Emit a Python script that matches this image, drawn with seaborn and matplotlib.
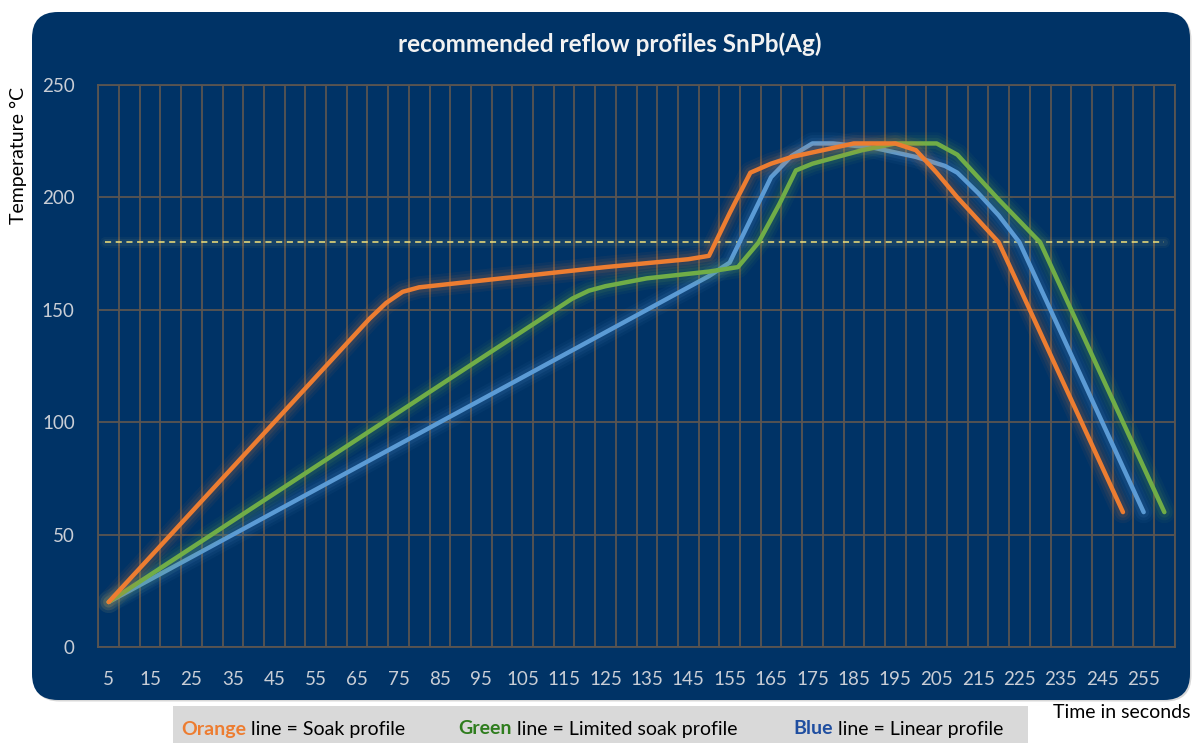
import matplotlib
matplotlib.use("Agg")
import matplotlib.pyplot as plt
from matplotlib.patches import FancyBboxPatch, Rectangle
import seaborn as sns
import numpy as np

# reflow profile readings (time in s, temperature in degC)
soak_time = [5, 68, 72, 76, 80, 100, 125, 145, 150, 155, 160, 165, 170, 180, 185, 195, 200, 205, 210, 215, 220, 250]
soak_temp = [20, 146, 153, 158, 160, 164, 169, 172.5, 174, 193, 211, 215, 218, 222, 224, 224, 221, 211, 200, 190, 180, 60]

limited_time = [5, 117, 121, 125, 135, 150, 157, 162, 167, 171, 175, 187, 195, 205, 210, 215, 220, 230, 260]
limited_temp = [20, 155, 158.5, 160.5, 164, 167, 169, 180, 197, 212, 215, 221, 224, 224, 219, 209, 199, 180, 60]

linear_time = [5, 150, 155, 160, 165, 170, 175, 180, 190, 200, 207, 210, 215, 220, 225, 255]
linear_temp = [20, 165, 171, 190, 209, 218.5, 224, 224, 222, 218, 214, 211, 202, 192, 180, 60]

liquidus_time = [4, 260]
liquidus_temp = [180, 180]

x_labels = list(range(5, 256, 10))
y_ticks = [0, 50, 100, 150, 200, 250]

BG = "#003366"
GRID = "#5a5550"
TICK = "#c9ced6"
ORANGE = "#ED7D31"
GREEN = "#70AD47"
BLUE = "#5B9BD5"

sns.set_style("white")
plt.rcParams["font.family"] = ["Lato", "DejaVu Sans"]

fig = plt.figure(figsize=(11.94, 7.43), dpi=100)
fig.patch.set_facecolor("white")

# dark rounded panel
shadow = FancyBboxPatch((0.335, 0.415), 11.58, 6.88, boxstyle="round,pad=0,rounding_size=0.26",
                        transform=fig.dpi_scale_trans, facecolor="#d8d8d8", edgecolor="none", zorder=0)
panel = FancyBboxPatch((0.32, 0.43), 11.58, 6.88, boxstyle="round,pad=0,rounding_size=0.26",
                       transform=fig.dpi_scale_trans, facecolor=BG, edgecolor="none", zorder=0)
fig.patches.extend([shadow, panel])

ax = fig.add_axes([98.3 / 1194, 1 - 647 / 743, (1174.7 - 98.3) / 1194, (647 - 85) / 743])
ax.set_facecolor(BG)
ax.set_zorder(1)

def glow_line(x, y, color, lw=3.2, ls="-", glow=((16, 0.05), (12, 0.07), (8, 0.10))):
    for w, a in glow:
        sns.lineplot(x=x, y=y, ax=ax, color=color, lw=w, alpha=a, solid_capstyle="round", ls="-")
    line = sns.lineplot(x=x, y=y, ax=ax, color=color, lw=lw, ls=ls, solid_capstyle="round")
    return line

glow_line(liquidus_time, liquidus_temp, "#f3e27a", lw=1.1, ls=(0, (4, 3)),
          glow=((8, 0.04), (5, 0.06)))
glow_line(linear_time, linear_temp, BLUE)
glow_line(limited_time, limited_temp, GREEN)
glow_line(soak_time, soak_temp, ORANGE)
for ln in ax.lines:
    ln.set_solid_joinstyle("round")

ax.set_xlim(2.5, 262.5)
ax.set_ylim(0, 250)
ax.set_xticks(x_labels)
ax.set_xticklabels([str(v) for v in x_labels])
ax.set_xticks(np.arange(2.5, 263, 5), minor=True)
ax.set_yticks(y_ticks)
ax.tick_params(axis="both", which="both", length=0, colors=TICK, labelsize=13.5)
ax.tick_params(axis="x", pad=17)
ax.tick_params(axis="y", pad=17)
ax.grid(False)
ax.grid(True, axis="x", which="minor", color=GRID, lw=1.3)
ax.grid(True, axis="y", which="major", color=GRID, lw=1.3)
for s in ax.spines.values():
    s.set_visible(True)
    s.set_color(GRID)
    s.set_linewidth(1.3)
ax.set_xlabel("")
ax.set_ylabel("")

fig.text(0.511, 1 - 44 / 743, "recommended reflow profiles SnPb(Ag)", color="#f2f2f2",
         fontsize=17.5, fontweight="bold", ha="center", va="center")
fig.text(18 / 1194, 1 - 155 / 743, "Temperature °C", rotation=90, color="black",
         fontsize=14, ha="center", va="center")
fig.text(1122 / 1194, 1 - 713 / 743, "Time in seconds", color="black",
         fontsize=14, ha="center", va="center")

fig.patches.append(Rectangle((173 / 1194, 0), (1028 - 173) / 1194, 37 / 743,
                             transform=fig.transFigure, facecolor="#d9d9d9", edgecolor="none"))

legend_parts = [
    (181, "Orange", ORANGE, " line = Soak profile"),
    (458, "Green", "#2f7d1e", " line = Limited soak profile"),
    (793, "Blue", "#1f4ea0", " line = Linear profile"),
]
renderer = fig.canvas.get_renderer()
for px, word, col, rest in legend_parts:
    t = fig.text(px / 1194, 1 - 729 / 743, word, color=col, fontweight="bold",
                 fontsize=14, ha="left", va="center")
    bb = t.get_window_extent(renderer=renderer)
    fig.text(bb.x1 / 1194, 1 - 729 / 743, rest, color="black",
             fontsize=14, ha="left", va="center")

fig.savefig("out.png", dpi=100, facecolor="white")
